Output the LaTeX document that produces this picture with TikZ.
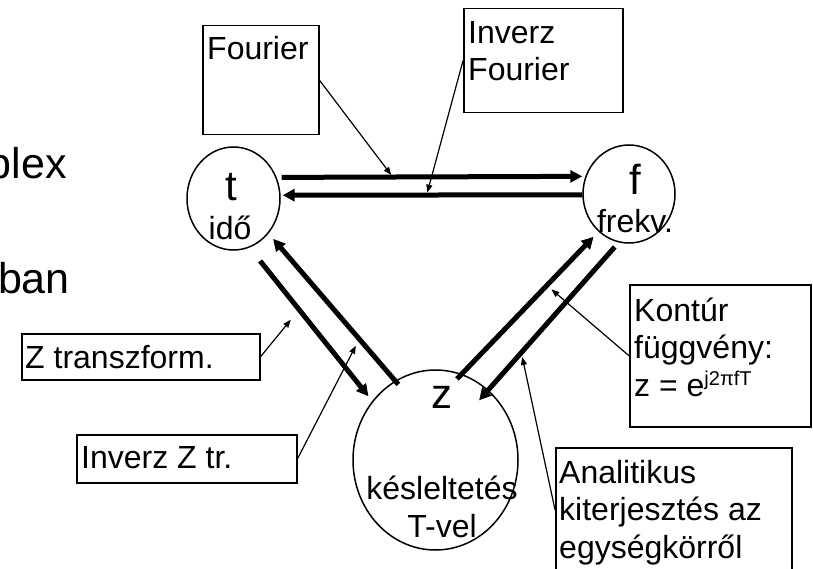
\documentclass[tikz,border=0pt]{standalone}
\usepackage{fontspec}
\setmainfont{Liberation Sans}
\usetikzlibrary{shapes.geometric,arrows.meta}

\newcommand{\bigtxt}{\fontsize{42pt}{48pt}\selectfont}
\newcommand{\slidetxt}{\fontsize{43pt}{50pt}\selectfont}
\newcommand{\boxtxt}{\fontsize{32pt}{37.5pt}\selectfont}
\newcommand{\suptxt}{\fontsize{20pt}{22pt}\selectfont}

\begin{document}
\begin{tikzpicture}[x=1pt,y=-1pt,
  dom/.style={draw,ellipse,line width=1.5pt,inner sep=0pt},
  box/.style={draw,line width=1.5pt,anchor=north west,inner sep=0pt},
  boxtext/.style={anchor=base west,align=left,inner sep=0pt,font=\boxtxt},
  lbl/.style={anchor=base,inner sep=0pt,font=\boxtxt},
  fat/.style={line width=5pt,-{Triangle[length=12pt,width=12pt]}},
  pointer/.style={line width=1.2pt,-{Triangle[length=8pt,width=6pt]}}]
\useasboundingbox (0,0) rectangle (813,569);
\clip (0,0) rectangle (813,569);

% cut-off slide text
\node[anchor=base east,inner sep=0pt,font=\slidetxt] (plex) at (67,179) {plex};
\node[anchor=base east,inner sep=0pt,font=\slidetxt] (ban) at (70,293) {ban};

% the three domains
\node[dom,minimum width=93pt,minimum height=103pt] (t) at (233.5,198.5) {};
\node[dom,minimum width=92pt,minimum height=98pt] (f) at (629,194) {};
\node[dom,minimum width=165pt,minimum height=180pt] (z) at (435.5,460) {};
\node[lbl,font=\bigtxt] (tl) at (231,201) {t};
\node[lbl] (tn) at (230,240) {idő};
\node[lbl,font=\bigtxt] (fl) at (635,195) {f};
\node[lbl] (fn) at (635,233) {frekv.};
\node[lbl,font=\bigtxt] (zl) at (442,408) {z};
% base of a multi-line node is its last line
\node[lbl,align=center] (zn) at (442,537) {késleltetés\\T-vel};

% transforms
\draw[fat,shorten <=5pt,shorten >=3pt] (t.26.9) -- coordinate[pos=0.376] (ftip) (f.158.5);
\draw[fat,shorten >=2pt] (f.181) -- coordinate[pos=0.516] (iftip) (t.4.3);
\draw[fat,shorten <=-5pt,shorten >=7pt] (z.117) -- coordinate[pos=0.283] (iztip) (t.-45);
\draw[fat,shorten <=17pt,shorten >=6pt] (t.-72.6) -- coordinate[pos=0.404] (ztip) (z.137.8);
\draw[fat,shorten <=-7pt,shorten >=7pt] (z.73.2) -- coordinate[pos=0.622] (ktip) (f.231.7);
\draw[fat,shorten <=6pt,shorten >=-14pt] (f.258.5) -- coordinate[pos=0.747] (antip) (z.53.1);

% callouts
\node[box,minimum width=116pt,minimum height=109pt] (fourier) at (202,25) {};
\node[boxtext] (fouriertxt) at (207,60) {Fourier};
\node[box,minimum width=159pt,minimum height=104pt] (invf) at (463,8) {};
\node[boxtext] (invftxt) at (468,81) {Inverz\\Fourier};
\node[box,minimum width=238pt,minimum height=46pt] (ztr) at (21,333) {};
\node[boxtext] (ztrtxt) at (25,368) {Z transzform.};
\node[box,minimum width=220pt,minimum height=48pt] (iztr) at (76,434) {};
\node[boxtext] (iztrtxt) at (81,468) {Inverz Z tr.};
\node[box,minimum width=181pt,minimum height=142pt] (kontur) at (629,284) {};
\node[boxtext] (konturtxt) at (634,396) {Kontúr\\függvény:\\z = e\raisebox{11pt}{\suptxt j2πfT}};
\node[box,minimum width=236pt,minimum height=124pt] (anal) at (555,447) {};
\node[boxtext] (analtxt) at (559,558) {Analitikus\\kiterjesztés az\\egységkörről};

\draw[pointer,shorten >=2.5pt] (fourier.east) -- (ftip);
\draw[pointer,shorten >=2.5pt] (invf.west) -- (iftip);
\draw[pointer,shorten >=13pt] (ztr.east) -- (ztip);
\draw[pointer,shorten >=7.5pt] (iztr.east) -- (iztip);
\draw[pointer,shorten >=6pt] (kontur.west) -- (ktip);
\draw[pointer,shorten >=4.5pt] (anal.west) -- (antip);
\end{tikzpicture}
\end{document}
